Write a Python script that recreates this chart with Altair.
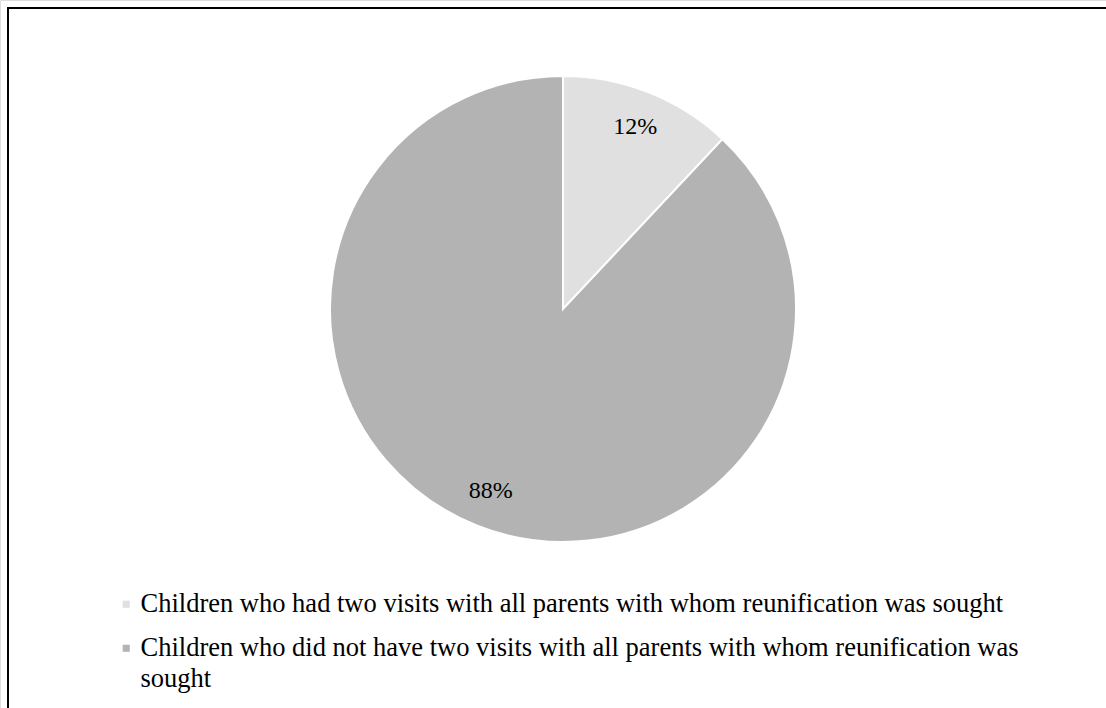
import altair as alt
import pandas as pd

categories = [
    "Children who had two visits with all parents with whom reunification was sought",
    "Children who did not have two visits with all parents with whom reunification was\nsought",
]
values = [12, 88]
labels = ["12%", "88%"]
colors = ["#e0e0e0", "#b3b3b3"]

df = pd.DataFrame({"category": categories, "value": values, "label": labels, "order": [0, 1]})

FONT = "Times New Roman, Liberation Serif, Times, serif"
CX, CY, R = 563, 309, 233

color = alt.Color(
    "category:N",
    scale=alt.Scale(domain=categories, range=colors),
    sort=categories,
    legend=alt.Legend(
        orient="none",
        legendX=113,
        legendY=591,
        title=None,
        symbolType="square",
        symbolSize=50,
        symbolStrokeWidth=0,
        labelFont=FONT,
        labelFontSize=26.5,
        labelColor="black",
        labelLimit=1000,
        rowPadding=17,
        labelOffset=1,
        labelExpr="split(datum.label, '\\n')",
    ),
)

base = alt.Chart(df)

pie = base.mark_arc(stroke="white", strokeWidth=2).encode(
    theta=alt.Theta("value:Q", stack=True),
    order=alt.Order("order:Q"),
    color=color,
    x=alt.value(CX),
    y=alt.value(CY),
    radius=alt.value(R),
)

text = base.mark_text(font=FONT, fontSize=24, color="black").encode(
    theta=alt.Theta("value:Q", stack=True),
    order=alt.Order("order:Q"),
    text="label:N",
    x=alt.value(CX),
    y=alt.value(CY),
    radius=alt.value(196),
)

border = alt.Chart(pd.DataFrame({"a": [0]})).mark_rect(
    fill=None, stroke="black", strokeWidth=2
).encode(
    x=alt.value(8), x2=alt.value(1120), y=alt.value(8), y2=alt.value(730)
)

chart = alt.layer(pie, text, border).properties(
    width=1106, height=708, padding=0, autosize=alt.AutoSizeParams(type="none"),
    background="white",
).configure_view(stroke=None).configure(style={"guide-label": {"lineHeight": 31}})

chart.save("out.html", embed_options={"renderer": "svg", "actions": False})
